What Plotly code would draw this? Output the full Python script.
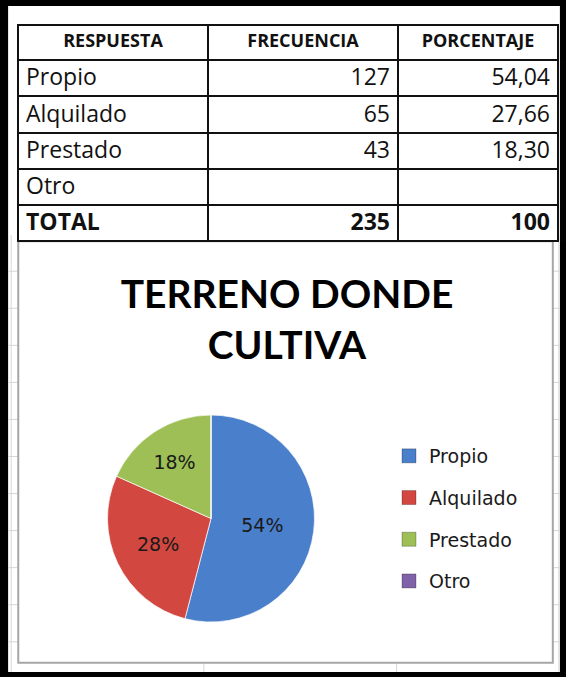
import plotly.graph_objects as go

W, H = 566, 677

# ---- data ----
headers = ["RESPUESTA", "FRECUENCIA", "PORCENTAJE"]
categories = ["Propio", "Alquilado", "Prestado", "Otro"]
frecuencia = [127, 65, 43, None]
porcentaje = [54.04, 27.66, 18.30, None]
total_label = "TOTAL"
total_frecuencia = 235
total_porcentaje = 100
colors = ["#4A7FCB", "#D2473F", "#9DBF55", "#7F62A8"]
title_text = "TERRENO DONDE<br>CULTIVA"


def px(x):
    return x / W


def py(y):
    return 1 - y / H


def fmt_int(v):
    return "" if v is None else str(v)


def fmt_pct(v):
    return "" if v is None else f"{v:.2f}".replace(".", ",")


col1 = categories
col2 = [fmt_int(v) for v in frecuencia]
col3 = [fmt_pct(v) for v in porcentaje]
total_row = [total_label, str(total_frecuencia), str(total_porcentaje)]

HEADER_H, ROW_H = 35, 36.4
TABLE_TOP = 25
body_bottom = TABLE_TOP + HEADER_H + ROW_H * len(categories)
line_style = dict(color="#111111", width=2)
col_widths = [190, 190, 160]
aligns = ["left", "right", "right"]

fig = go.Figure()

# header + category rows
fig.add_trace(go.Table(
    domain=dict(x=[px(18), px(558)], y=[py(body_bottom + 0.5), py(TABLE_TOP)]),
    columnwidth=col_widths,
    header=dict(
        values=headers, align="center", height=HEADER_H, fill_color="white",
        line=line_style,
        font=dict(family="Open Sans", size=18, color="#111111", weight="bold"),
    ),
    cells=dict(
        values=[col1, col2, col3], align=aligns, height=ROW_H, fill_color="white",
        line=line_style,
        font=dict(family="Open Sans", size=23, color="#111111"),
    ),
))
# TOTAL row (bold)
fig.add_trace(go.Table(
    domain=dict(x=[px(18), px(558)], y=[py(body_bottom + ROW_H + 1), py(body_bottom - 1)]),
    columnwidth=col_widths,
    header=dict(
        values=total_row, align=aligns, height=ROW_H, fill_color="white",
        line=line_style,
        font=dict(family="Open Sans", size=23, color="#111111", weight="bold"),
    ),
    cells=dict(values=[[], [], []], line=dict(width=0), fill_color="rgba(0,0,0,0)"),
))

pie_values = [v if v is not None else 0 for v in frecuencia]
fig.add_trace(go.Pie(
    labels=categories, values=pie_values, sort=False,
    direction="clockwise", rotation=0,
    marker=dict(colors=colors, line=dict(color="rgba(255,255,255,0.7)", width=1)),
    texttemplate="%{percent:.0%}", textposition="inside",
    insidetextorientation="horizontal",
    textfont=dict(family="DejaVu Sans", size=19, color="#1a1a1a"),
    showlegend=False,
    domain=dict(x=[px(106), px(316)], y=[py(622), py(415)]),
))

for name, c in zip(categories, colors):
    fig.add_trace(go.Scatter(
        x=[None], y=[None], mode="markers", name=name, legendgroup=name,
        marker=dict(symbol="square", size=14, color=c,
                    line=dict(color="rgba(0,0,0,0.25)", width=1)),
        hoverinfo="skip",
    ))

grid = "#D6D6D6"
shapes = [
    # black frame
    dict(type="rect", x0=px(7), x1=px(565), y0=py(677), y1=py(12),
         fillcolor="black", line=dict(width=0), layer="below"),
    dict(type="rect", x0=px(15), x1=px(559), y0=py(672), y1=py(18),
         fillcolor="white", line=dict(width=0), layer="below"),
]
# spreadsheet gridlines around the chart
for k in range(1, 12):
    y = 242 + 36.4 * k
    if y < 663:
        shapes.append(dict(type="line", x0=px(15), x1=px(25), y0=py(y), y1=py(y),
                           line=dict(color=grid, width=1), layer="below"))
        shapes.append(dict(type="line", x0=px(552), x1=px(559), y0=py(y), y1=py(y),
                           line=dict(color=grid, width=1), layer="below"))
for x in (18, 558, 208, 398):
    shapes.append(dict(type="line", x0=px(x), x1=px(x), y0=py(672), y1=py(243),
                       line=dict(color=grid, width=1), layer="below"))
# chart area
shapes.append(dict(type="rect", x0=px(25), x1=px(552), y0=py(663), y1=py(249),
                   fillcolor="white", line=dict(color="#A6A6A6", width=2), layer="below"))

fig.update_layout(
    width=W, height=H,
    margin=dict(l=0, r=0, t=0, b=0),
    paper_bgcolor="white", plot_bgcolor="rgba(0,0,0,0)",
    xaxis=dict(visible=False), yaxis=dict(visible=False),
    shapes=shapes,
    title=dict(text=f"<b>{title_text}</b>", x=px(287), xanchor="center",
               y=py(308), yanchor="middle",
               font=dict(family="Lato", size=39, color="#000000")),
    legend=dict(x=px(389), y=py(437), xanchor="left", yanchor="top",
                tracegroupgap=14, bgcolor="rgba(0,0,0,0)",
                font=dict(family="DejaVu Sans", size=19, color="#1a1a1a")),
    showlegend=True,
)

fig.write_html(
    "out.html",
    config={"displayModeBar": False},
    post_script="document.body.style.margin='0';document.body.style.overflow='hidden';",
)
